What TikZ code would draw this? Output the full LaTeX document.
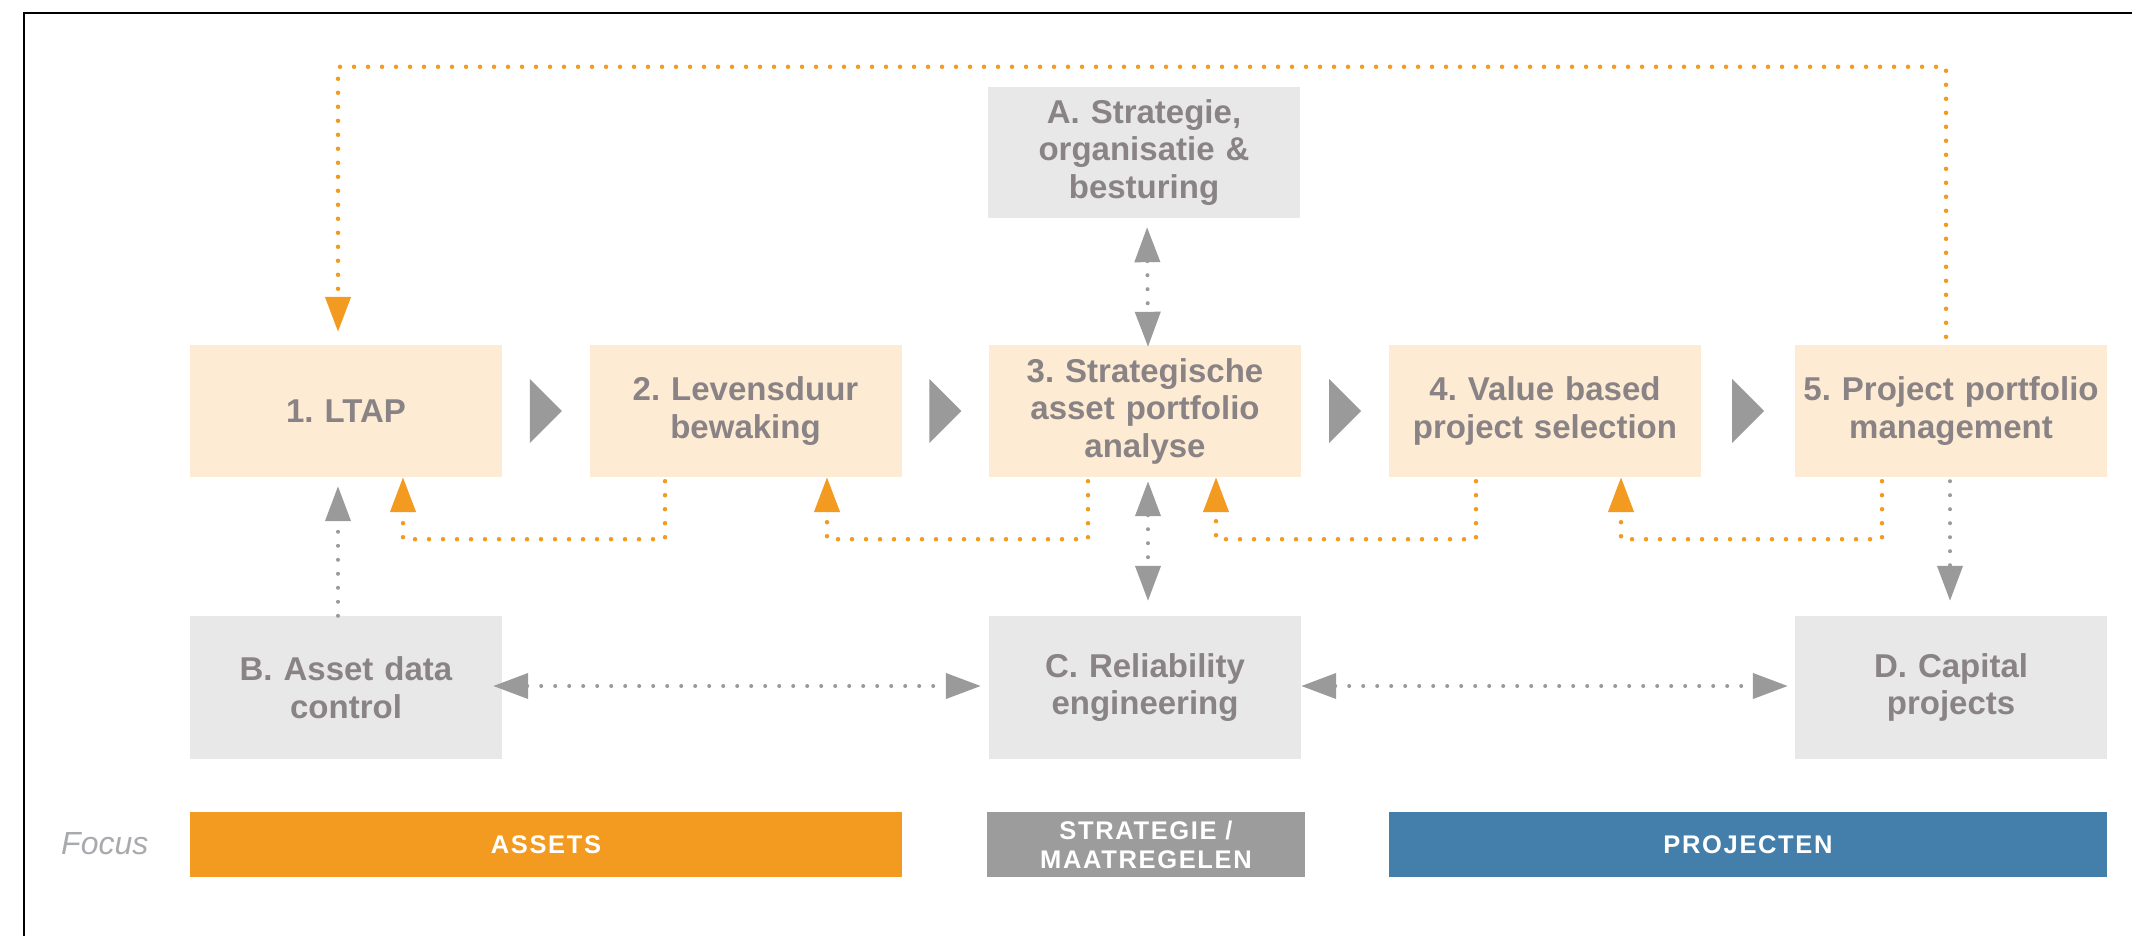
\documentclass[tikz,border=0pt]{standalone}
\usepackage{fontspec}
\setmainfont{Liberation Sans}
\newfontfamily\barfont[LetterSpace=6.5]{Liberation Sans}
\usetikzlibrary{arrows.meta,calc}
\definecolor{boxor}{HTML}{FDEBD3}
\definecolor{boxgr}{HTML}{E8E8E8}
\definecolor{txtgr}{HTML}{8A8386}
\definecolor{orng}{HTML}{F39A21}
\definecolor{argr}{HTML}{9A9A9A}
\definecolor{barblue}{HTML}{437FAA}
\definecolor{bargr}{HTML}{9C9C9C}
\definecolor{focusgr}{HTML}{A8AAAE}
\frenchspacing
\begin{document}
\frenchspacing
\begin{tikzpicture}[x=1pt,y=-1pt,
  >={Triangle[length=35pt,width=25pt]},
  box/.style={minimum width=312pt, inner sep=0pt, align=center, text=txtgr,
    font=\fontsize{33}{37.5}\selectfont\bfseries, text width=304pt},
  procbox/.style={box, fill=boxor, minimum height=132pt},
  supbox/.style={box, fill=boxgr, minimum height=143pt},
  bar/.style={minimum height=65pt, inner sep=0pt, text=white,
    font=\barfont\bfseries\fontsize{25.5}{29}\selectfont, align=center},
  odots/.style={draw=orng, line width=4.5pt, line cap=round, dash pattern=on 0pt off 14pt},
  gdots/.style={draw=argr, line width=4pt, line cap=round, dash pattern=on 0pt off 14pt},
  chev/.style={fill=argr}
]
\useasboundingbox (0,0) rectangle (2132,936);
\fill[white] (0,0) rectangle (2132,936);
\draw[line width=2pt] (2132,13) -- (24,13) -- (24,936);

% process row
\node[procbox] (b1) at (346,411) {1. LTAP};
\node[procbox] (b2) at (745.5,411) {2. Levensduur\\bewaking};
\node[procbox] (b3) at (1145,411) {3. Strategische\\asset portfolio\\analyse};
\node[procbox] (b4) at (1545,411) {4. Value based\\project selection};
\node[procbox] (b5) at (1951,411) {5. Project portfolio\\management};

% support boxes
\node[box, fill=boxgr, minimum height=131pt] (ba) at (1144,152.5) {A. Strategie,\\organisatie \&\\besturing};
\node[supbox] (bb) at (346,687.5) {B. Asset data\\control};
\node[supbox] (bc) at (1145,687.5) {C. Reliability\\engineering};
\node[supbox] (bd) at (1951,687.5) {D. Capital\\projects};

% focus bars
\node[text=focusgr, font=\fontsize{32}{36}\selectfont\itshape, anchor=west, inner sep=0pt] (focus) at (61,844) {Focus};
\node[bar, fill=orng, minimum width=712pt] (fa) at (546,844.5) {ASSETS};
\node[bar, fill=bargr, minimum width=318pt] (fs) at (1146,844.5) {STRATEGIE /\\MAATREGELEN};
\node[bar, fill=barblue, minimum width=718pt] (fp) at (1748,844.5) {PROJECTEN};

% chevrons
\foreach \p/\q in {b1/b2,b2/b3,b3/b4,b4/b5}
  \fill[chev] ($(\p.east)!0.5!(\q.west)$) ++(-16,-32) -- ++(32,32) -- ++(-32,32) -- cycle;

% orange loops
\draw[odots,->,shorten <=8pt,shorten >=13pt] ([xshift=-5pt]b5.north) -- ++(0,-278) -| ([xshift=-8pt]b1.north);
\draw[odots,->,shorten <=4pt] ([xshift=-80.5pt]b2.south) -- ++(0,62) -| ([xshift=57pt]b1.south);
\draw[odots,->,shorten <=4pt] ([xshift=-57pt]b3.south) -- ++(0,62) -| ([xshift=81.5pt]b2.south);
\draw[odots,->,shorten <=4pt] ([xshift=-69pt]b4.south) -- ++(0,62) -| ([xshift=71pt]b3.south);
\draw[odots,->,shorten <=4pt] ([xshift=-69pt]b5.south) -- ++(0,62) -| ([xshift=76pt]b4.south);

% gray connectors
\draw[gdots,<->,shorten <=9pt,shorten >=-2pt] ([xshift=3pt]ba.south) -- ([xshift=3pt]b3.north);
\draw[gdots,->,shorten >=9pt] ([xshift=-8pt]bb.north) -- ([xshift=-8pt]b1.south);
\draw[gdots,<->,shorten <=4pt,shorten >=15pt] ([xshift=3pt]b3.south) -- ([xshift=3pt]bc.north);
\draw[gdots,->,shorten <=4pt,shorten >=15pt] ([xshift=-1pt]b5.south) -- ([xshift=-1pt]bd.north);
\draw[gdots,<->,shorten <=-9pt,shorten >=8pt] ([yshift=1.5pt]bb.east) -- ([yshift=1.5pt]bc.west);
\draw[gdots,<->,shorten >=7pt] ([yshift=1.5pt]bc.east) -- ([yshift=1.5pt]bd.west);
\end{tikzpicture}
\end{document}
